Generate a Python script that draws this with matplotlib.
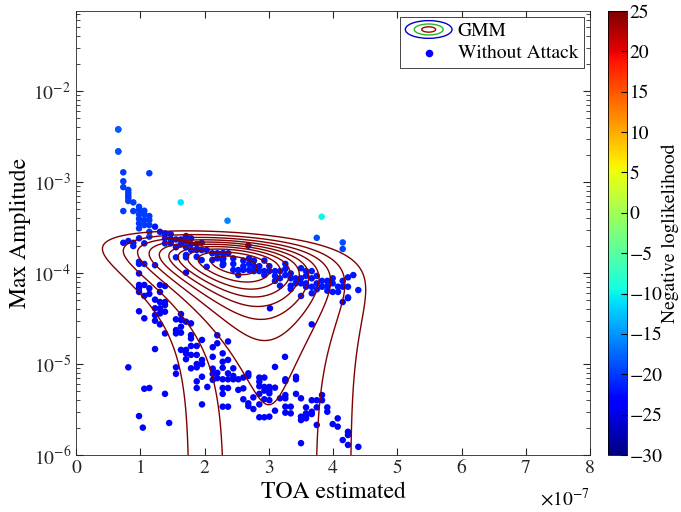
import numpy as np
import matplotlib
matplotlib.use("Agg")
import matplotlib.pyplot as plt
from matplotlib.legend_handler import HandlerBase
from matplotlib.patches import Ellipse
from matplotlib.ticker import LogLocator, NullFormatter

plt.rcParams['font.family'] = 'STIXGeneral'
plt.rcParams['mathtext.fontset'] = 'stix'

# TOA in units of 1e-7, amplitude as is, colour = negative loglikelihood
# upper branch (small TOA, large amplitude)
up_x = [0.658, 0.658, 0.736, 1.141, 0.736, 0.736, 0.814, 0.814, 0.814, 0.814, 0.814, 0.892,
        0.736, 0.892, 0.981, 0.981, 0.981, 0.981, 0.981, 0.981, 1.063, 1.063, 1.063, 1.063,
        1.141, 1.141, 1.141, 1.141, 1.141]
up_y = [3.79e-3, 2.17e-3, 1.28e-3, 1.25e-3, 1.02e-3, 8.8e-4, 8.2e-4, 7.6e-4, 7.1e-4, 6.7e-4,
        6.2e-4, 5.98e-4, 4.8e-4, 4.8e-4, 5.35e-4, 4.92e-4, 4.42e-4, 3.95e-4, 3.52e-4, 3.1e-4,
        4.84e-4, 4.42e-4, 3.82e-4, 3.37e-4, 4.23e-4, 3.82e-4, 3.37e-4, 2.84e-4, 2.51e-4]
up_nll = -20

# isolated points with their own likelihood
out_x = [1.630, 3.824, 2.358, 3.747, 4.151, 4.151, 0.658, 0.658]
out_y = [5.98e-4, 4.16e-4, 3.76e-4, 2.44e-4, 2.17e-4, 1.84e-4, 3.79e-3, 2.17e-3]
out_nll = [-11, -10, -16, -19, -19, -19.5, -18, -18.5]

# main band around 1e-4
mid_x = [1.230, 1.307, 1.385, 1.385, 1.385, 1.474, 1.474, 1.474, 1.556, 1.556, 1.634, 1.634,
         1.712, 1.712, 1.712, 1.712, 1.790, 1.790, 1.790, 1.879, 1.879, 1.879, 1.956, 1.956,
         1.956, 2.034, 2.034, 2.121, 2.121, 2.199, 2.199, 2.283, 2.283, 2.283,
         0.736, 0.814, 0.892, 0.892, 1.063, 0.981, 1.556, 1.712, 0.981, 0.981, 1.063, 1.230,
         2.682, 2.293, 2.293, 2.293, 2.370, 2.448, 2.448, 2.448, 2.526, 2.526, 2.604, 2.604,
         2.604, 2.693, 2.693, 2.693, 2.770, 2.770, 2.770, 2.853, 2.853, 2.931, 2.931, 2.931,
         3.009, 3.009, 3.097, 3.097, 3.097, 3.175, 3.175, 3.175, 3.258, 3.258, 3.258, 3.342,
         3.342, 3.342, 3.342, 3.419, 3.419, 3.502, 3.502, 3.502, 3.502, 3.580, 3.580, 3.580,
         3.580, 3.669, 3.669, 3.669, 3.669, 3.747, 3.747, 3.747, 3.829, 3.829, 3.911, 3.911,
         3.911, 3.995, 3.995, 3.995, 4.078, 4.078, 4.151, 4.151, 4.233, 4.233, 4.233, 4.316,
         4.394]
mid_y = [3.23e-4, 2.84e-4, 2.73e-4, 2.41e-4, 2.12e-4, 2.68e-4, 2.38e-4, 2.12e-4, 2.34e-4,
         1.92e-4, 2.34e-4, 2.08e-4, 2.55e-4, 2.21e-4, 1.92e-4, 1.58e-4, 2.41e-4, 2.08e-4,
         1.79e-4, 2.08e-4, 1.79e-4, 1.51e-4, 2.15e-4, 1.79e-4, 1.39e-4, 1.79e-4, 1.17e-4,
         1.65e-4, 1.39e-4, 1.65e-4, 1.45e-4, 1.65e-4, 1.39e-4, 1.22e-4,
         2.15e-4, 2.25e-4, 2.15e-4, 1.98e-4, 2.12e-4, 2.41e-4, 1.49e-4, 1.49e-4, 1.33e-4,
         1.26e-4, 1.26e-4, 1.22e-4,
         2.0e-4, 1.65e-4, 1.45e-4, 1.26e-4, 1.65e-4, 1.45e-4, 1.26e-4, 1.08e-4, 1.08e-4,
         9.5e-5, 1.37e-4, 1.19e-4, 1.08e-4, 1.45e-4, 1.26e-4, 1.08e-4, 1.37e-4, 1.19e-4,
         1.05e-4, 1.19e-4, 1.05e-4, 1.37e-4, 1.05e-4, 9.5e-5, 1.19e-4, 1.05e-4, 1.05e-4,
         9.3e-5, 8.2e-5, 1.05e-4, 8.75e-5, 7.25e-5, 1.26e-4, 1.11e-4, 9.5e-5, 9.9e-5, 8.75e-5,
         7.25e-5, 6.67e-5, 8.75e-5, 7.7e-5, 1.13e-4, 8.75e-5, 7.7e-5, 5.6e-5, 1.05e-4, 9.3e-5,
         7.7e-5, 7.07e-5, 1.05e-4, 8.75e-5, 7.07e-5, 6.0e-5, 9.3e-5, 7.7e-5, 6.62e-5, 8.2e-5,
         7.07e-5, 8.2e-5, 7.25e-5, 6.4e-5, 8.75e-5, 7.7e-5, 6.2e-5, 7.07e-5, 6.2e-5, 8.2e-5,
         7.07e-5, 8.97e-5, 7.07e-5, 5.4e-5, 9.5e-5, 6.5e-5]
mid_nll = -22

# lower cloud, 1e-6 .. 1e-4
low_x = [0.981, 1.712, 0.981, 0.981, 0.981, 1.063, 1.063, 1.141, 1.141, 1.307, 1.385, 1.307,
         1.230, 1.307, 1.385, 1.385, 0.981, 1.063, 1.230, 1.230, 1.230, 1.307, 1.307, 1.307,
         1.385, 1.385, 1.556, 1.556, 1.556, 1.634, 1.634, 1.634, 1.634, 1.712, 1.790, 1.790,
         1.790, 1.230, 1.634, 1.712, 1.712, 1.790, 1.790, 1.879, 1.879, 1.879, 1.879, 1.961,
         1.961, 1.961, 1.790, 1.712, 1.556, 1.556, 0.814, 1.879, 1.879, 1.961, 2.044, 2.128,
         2.128, 2.128, 2.128, 2.128, 2.199, 2.199, 2.199, 2.199, 2.283, 2.283, 2.283, 2.366,
         2.366, 2.366, 2.366, 2.366, 2.366, 1.063, 1.141, 1.385, 1.961, 0.981, 1.04, 1.45,
         4.151, 4.233, 3.019, 3.669, 3.253, 2.283, 2.283, 2.283, 2.283,
         2.448, 2.448, 2.448, 2.526, 2.526, 2.604, 2.604, 2.604, 2.682, 2.682, 2.682, 2.682,
         2.760, 2.760, 2.853, 2.853, 2.853, 2.853, 2.853, 2.853, 2.931, 2.931, 2.931, 2.931,
         2.931, 3.009, 3.009, 3.009, 3.009, 3.009, 3.097, 3.097, 3.097, 3.175, 3.258, 3.258,
         3.258, 3.258, 3.258, 3.258, 3.342, 3.342, 3.424, 3.424, 3.424, 3.502, 3.502, 3.502,
         3.502, 3.580, 3.580, 3.580, 3.580, 3.669, 3.669, 3.669, 3.747, 3.747, 3.747, 3.829,
         3.829, 3.911, 3.911, 3.995, 4.073, 4.073, 4.233, 4.233, 4.233, 4.151, 4.394]
low_y = [9.9e-5, 1.01e-4, 7.4e-5, 6.8e-5, 6.2e-5, 7.4e-5, 5.6e-5, 6.8e-5, 5.9e-5, 7.4e-5,
         7.2e-5, 6.2e-5, 5.1e-5, 4.8e-5, 4.8e-5, 4.45e-5, 3.8e-5, 3.18e-5, 4.1e-5, 3.45e-5,
         2.99e-5, 4.1e-5, 3.6e-5, 2.73e-5, 3.76e-5, 2.17e-5, 3.1e-5, 2.36e-5, 2.17e-5, 3.54e-5,
         3.05e-5, 2.57e-5, 2.21e-5, 2.92e-5, 2.8e-5, 2.08e-5, 1.91e-5, 1.46e-5, 1.43e-5,
         1.43e-5, 1.31e-5, 1.58e-5, 1.26e-5, 1.58e-5, 1.26e-5, 1.0e-5, 9.2e-6, 1.84e-5,
         1.11e-5, 1.0e-5, 8.97e-6, 1.13e-5, 9.2e-6, 7.8e-6, 9.2e-6, 6.45e-6, 5.45e-6, 7.25e-6,
         5.6e-6, 1.53e-5, 1.2e-5, 8.9e-6, 7.8e-6, 6.7e-6, 2.07e-5, 1.69e-5, 8.0e-6, 7.0e-6,
         1.31e-5, 1.06e-5, 5.45e-6, 1.77e-5, 1.11e-5, 7.9e-6, 6.8e-6, 5.45e-6, 3.4e-6,
         5.35e-6, 5.45e-6, 4.7e-6, 3.6e-6, 2.68e-6, 2.0e-6, 2.25e-6,
         4.8e-5, 5.3e-5, 4.1e-5, 2.73e-5, 1.2e-5, 9.1e-6, 6.8e-6, 4.7e-6, 3.4e-6,
         8.97e-6, 7.4e-6, 6.8e-6, 6.8e-6, 5.2e-6, 7.1e-6, 5.4e-6, 4.1e-6, 7.9e-6, 7.4e-6,
         3.7e-6, 3.45e-6, 4.3e-6, 3.2e-6, 7.1e-6, 6.4e-6, 5.7e-6, 4.7e-6, 3.6e-6, 2.6e-6,
         7.1e-6, 5.6e-6, 5.1e-6, 4.1e-6, 2.6e-6, 5.6e-6, 5.1e-6, 4.76e-6, 4.0e-6, 2.64e-6,
         9.3e-6, 5.5e-6, 3.07e-6, 4.2e-6, 6.8e-6, 6.5e-6, 4.56e-6, 4.2e-6, 3.4e-6, 2.92e-6,
         3.4e-6, 2.87e-6, 7.25e-6, 6.8e-6, 4.7e-6, 4.2e-6, 2.64e-6, 2.42e-6, 1.35e-6, 3.34e-6,
         2.87e-6, 2.64e-6, 2.53e-6, 4.0e-6, 2.99e-6, 2.82e-6, 4.0e-6, 3.34e-6, 2.14e-6,
         4.56e-6, 4.0e-6, 3.34e-6, 2.99e-6, 2.19e-6, 2.53e-6, 2.05e-6, 1.8e-6, 1.66e-6,
         1.29e-6, 1.46e-6, 1.23e-6]
low_nll = -23.5

# GMM (one component), TOA in 1e-7, amplitude linear
gmm_mean = [2.46, 1.25e-4]
gmm_sigma = [0.94, 0.76e-4]
gmm_rho = -0.36
n_levels = 10
outer_frac = 0.093

fig = plt.figure(figsize=(6.81, 5.12), dpi=100)
ax = fig.add_axes([0.1116, 0.1113, 0.7548, 0.8672])
cax = fig.add_axes([0.8928, 0.1113, 0.0279, 0.8672])

# contours of the gaussian
gx = np.linspace(0, 8, 400)
gy = np.logspace(-7.5, -1, 600)
GX, GY = np.meshgrid(gx, gy)
zu = (GX - gmm_mean[0]) / gmm_sigma[0]
zv = (GY - gmm_mean[1]) / gmm_sigma[1]
Z = np.exp(-(zu**2 - 2*gmm_rho*zu*zv + zv**2) / (2*(1 - gmm_rho**2)))
levels = outer_frac * np.arange(1, n_levels + 1)
ax.contour(GX, GY, Z, levels=levels, colors='#800000', linewidths=1.0)

kw = dict(cmap='jet', vmin=-30, vmax=25, s=22, linewidths=0)
ax.scatter(low_x, low_y, c=[low_nll]*len(low_x), **kw)
ax.scatter(mid_x, mid_y, c=[mid_nll]*len(mid_x), **kw)
ax.scatter(up_x, up_y, c=[up_nll]*len(up_x), **kw)
sc = ax.scatter(out_x, out_y, c=out_nll, **kw)

ax.set_yscale('log')
ax.set_xlim(0, 8)
ax.set_ylim(1e-6, 10**-1.12)
ax.set_xticks(range(9))
ax.set_yticks([1e-6, 1e-5, 1e-4, 1e-3, 1e-2])
ax.yaxis.set_minor_locator(LogLocator(base=10, subs=np.arange(2, 10)))
ax.yaxis.set_minor_formatter(NullFormatter())
ax.tick_params(which='both', direction='in', top=True, right=True, labelsize=14, colors='#262626')
ax.tick_params(which='major', length=5)
ax.tick_params(which='minor', length=3)
for s in ax.spines.values():
    s.set_linewidth(0.6)
    s.set_color('#262626')
ax.set_xlabel('TOA estimated', fontsize=17, labelpad=3)
ax.set_ylabel('Max Amplitude', fontsize=17, labelpad=2)
ax.text(1.0, -0.113, r'$\times10^{-7}$', transform=ax.transAxes, ha='right', va='baseline', fontsize=14)

cb = fig.colorbar(sc, cax=cax)
cb.set_ticks(range(-30, 30, 5))
cb.ax.tick_params(labelsize=14, direction='in', length=4, pad=2)
cb.outline.set_linewidth(0.6)
cb.set_label('Negative loglikelihood', fontsize=14, labelpad=-1)


class GMMProxy:
    pass


class HandlerGMM(HandlerBase):
    def create_artists(self, legend, orig_handle, xdescent, ydescent, width, height, fontsize, trans):
        cx = width / 2 - xdescent
        cy = height / 2 - ydescent
        arts = []
        for f, c in [(1.0, '#0000cc'), (0.62, '#22bb22'), (0.3, '#aa0000')]:
            e = Ellipse((cx, cy), width * f, height * 1.3 * f, fill=False, edgecolor=c, lw=1.0, transform=trans)
            arts.append(e)
        return arts


dot = ax.scatter([], [], color='#0000ff', s=30, linewidths=0)
leg = ax.legend([GMMProxy(), dot], ['GMM', 'Without Attack'], handler_map={GMMProxy: HandlerGMM()},
                loc='upper right', fontsize=14, fancybox=False, framealpha=1, edgecolor='#262626',
                borderaxespad=0.3, handlelength=2.4, handletextpad=0.3, labelspacing=0.2, borderpad=0.3)
leg.get_frame().set_linewidth(0.6)

fig.savefig('out.png', dpi=100)
